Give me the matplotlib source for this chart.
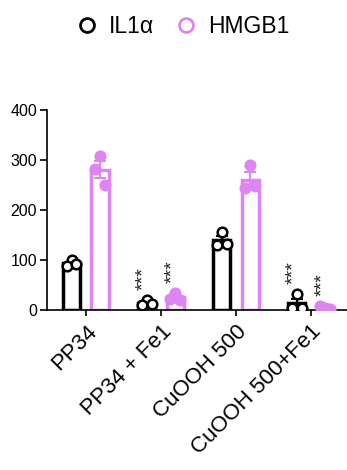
import matplotlib
matplotlib.use("Agg")
import matplotlib.pyplot as plt
import numpy as np
from matplotlib.lines import Line2D

plt.rcParams["font.family"] = ["Liberation Sans", "DejaVu Sans"]

groups = ["PP34", "PP34 + Fe1", "CuOOH 500", "CuOOH 500+Fe1"]
series = ["IL1α", "HMGB1"]
il1a_points = [[100, 88, 93], [20, 10, 13], [157, 130, 133], [32, 5, 5]]
hmgb1_points = [[308, 283, 250], [35, 22, 20], [290, 245, 248], [5, 8, 3]]
stars = [None, "***", None, "***"]

black = "#000000"
pink = "#DF85F3"

fig = plt.figure(figsize=(3.47, 4.70), dpi=100)
ax = fig.add_axes([0.135, 0.34, 0.865, 0.426])

x = np.arange(len(groups))
offset = 0.19
width = 0.23

for data, color, sign, filled in [(il1a_points, black, -1, False), (hmgb1_points, pink, 1, True)]:
    for i, pts in enumerate(data):
        pts = np.array(pts, dtype=float)
        m = pts.mean()
        sem = pts.std(ddof=1) / np.sqrt(len(pts))
        xc = x[i] + sign * offset
        ax.bar(xc, m, width=width, facecolor="white", edgecolor=color, linewidth=2.5, zorder=2)
        ax.errorbar(xc, m, yerr=sem, color=color, capsize=4, capthick=1.5, elinewidth=1.5, zorder=3)
        xs = xc + np.array([0.0, -0.065, 0.065])
        ax.scatter(xs, pts, s=48, facecolor=color if filled else "white", edgecolor=color,
                   linewidth=1.8, zorder=4)
        if stars[i]:
            ax.text(xc - 0.04, pts.max() + 20, stars[i], rotation=90, ha="center", va="bottom",
                    fontsize=14, color="#222222")

ax.set_xlim(-0.52, 3.48)
ax.set_ylim(0, 400)
ax.set_yticks([0, 100, 200, 300, 400])
ax.set_xticks(x)
ax.set_xticklabels(groups, rotation=45, ha="right", rotation_mode="anchor", fontsize=16)
ax.tick_params(axis="y", labelsize=11.5, length=5, width=1.2, pad=2)
ax.tick_params(axis="x", length=4, width=1.2, pad=4)
for s in ["top", "right"]:
    ax.spines[s].set_visible(False)
for s in ["left", "bottom"]:
    ax.spines[s].set_linewidth(1.2)

handles = [Line2D([], [], marker="o", linestyle="none", markersize=10, markerfacecolor="white",
                  markeredgecolor=c, markeredgewidth=2) for c in [black, pink]]
fig.legend(handles, series, loc="center", bbox_to_anchor=(0.526, 0.943), ncol=2, frameon=False,
           fontsize=16.5, handlelength=1.0, handletextpad=0.45, columnspacing=0.9)

fig.savefig("out.png", dpi=100)
